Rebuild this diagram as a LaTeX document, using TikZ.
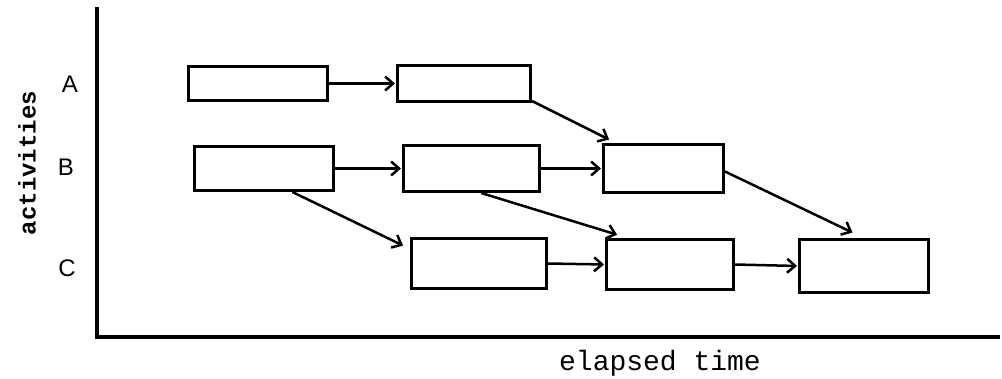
\documentclass[tikz,border=0pt]{standalone}
\usepackage{fontspec}
\newfontfamily\typefont{Liberation Mono}
\newfontfamily\letterfont{Liberation Sans}
\usetikzlibrary{arrows.meta,calc}
\begin{document}
\begin{tikzpicture}[x=1pt,y=-1pt,
  task/.style={draw, line width=3pt, inner sep=0pt, anchor=north west},
  link/.style={line width=2.5pt, shorten >=1pt,
    -{Straight Barb[length=8pt,width=14pt,line width=2.5pt]}},
  axisline/.style={line width=3.5pt},
  rowlabel/.style={font=\letterfont\fontsize{24}{24}\selectfont},
  axislabel/.style={font=\typefont\fontsize{28}{28}\selectfont}]
\useasboundingbox (0,0) rectangle (1002,378);

% axes
\coordinate (ytop) at (97,7);
\coordinate (xend) at (1000,337);
\draw[axisline] (ytop) |- (xend);
\node[axislabel, anchor=base] (tlabel) at (660,370) {elapsed time};
\node[font=\typefont\bfseries\fontsize{24}{24}\selectfont, rotate=90] (alabel) at (27,163) {activities};

% activity rows
\node[rowlabel] (rA) at (70,84) {A};
\node[rowlabel] (rB) at (66,167) {B};
\node[rowlabel] (rC) at (67,268) {C};

% activity boxes
\node[task, minimum width=139pt, minimum height=34pt] (A1) at (187,65) {};
\node[task, minimum width=133pt, minimum height=36pt] (A2) at (396,64) {};
\node[task, minimum width=139pt, minimum height=44pt] (B1) at (193,145) {};
\node[task, minimum width=136pt, minimum height=46pt] (B2) at (402,144) {};
\node[task, minimum width=120pt, minimum height=48pt] (B3) at (602,143) {};
\node[task, minimum width=135pt, minimum height=50pt] (C1) at (410,237) {};
\node[task, minimum width=127pt, minimum height=50pt] (C2) at (605,238) {};
\node[task, minimum width=129pt, minimum height=53pt] (C3) at (798,238) {};

% dependencies
\draw[link, line width=3pt] (A1.east) -- (A2.west);
\draw[link] ($(A2.south east)+(0,-2)$) -- ($(B3.north west)+(8,-3)$);
\draw[link] (B1.east) -- (B2.west);
\draw[link] (B2.east) -- (B3.west);
\draw[link] ($(B1.south west)!0.7!(B1.south east)$) -- ($(C1.north west)+(-6,9)$);
\draw[link] ($(B2.south west)!0.57!(B2.south east)$) -- ($(C2.north west)+(13,-3)$);
\draw[link] ($(B3.east)+(0,3)$) -- ($(C3.north west)!0.42!(C3.north east)+(0,-5)$);
\draw[link] (C1.east) -- (C2.west);
\draw[link] (C2.east) -- (C3.west);
\end{tikzpicture}
\end{document}
